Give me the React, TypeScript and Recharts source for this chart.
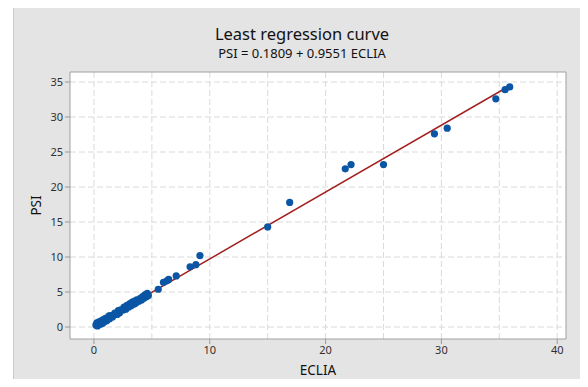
import React from "react";
import {
  ScatterChart,
  Scatter,
  XAxis,
  YAxis,
  CartesianGrid,
  ReferenceArea,
} from "recharts";

// ECLIA vs PSI readings
const points = [
  { x: 0.17, y: 0.3 }, { x: 0.25, y: 0.6 }, { x: 0.3, y: 0.15 }, { x: 0.4, y: 0.7 },
  { x: 0.45, y: 0.35 }, { x: 0.55, y: 0.8 }, { x: 0.6, y: 0.45 }, { x: 0.7, y: 0.95 },
  { x: 0.75, y: 0.55 }, { x: 0.85, y: 1.1 }, { x: 0.9, y: 0.75 }, { x: 1.0, y: 1.25 },
  { x: 1.1, y: 0.9 }, { x: 1.2, y: 1.35 }, { x: 1.3, y: 1.6 }, { x: 1.35, y: 1.2 },
  { x: 1.45, y: 1.65 }, { x: 1.6, y: 1.45 }, { x: 1.8, y: 2.0 }, { x: 2.0, y: 1.8 },
  { x: 2.1, y: 2.35 }, { x: 2.2, y: 2.0 }, { x: 2.3, y: 2.45 }, { x: 2.5, y: 2.4 },
  { x: 2.6, y: 2.85 }, { x: 2.75, y: 2.55 }, { x: 2.85, y: 3.1 }, { x: 3.0, y: 2.85 },
  { x: 3.1, y: 3.35 }, { x: 3.2, y: 3.05 }, { x: 3.3, y: 3.55 }, { x: 3.45, y: 3.25 },
  { x: 3.5, y: 3.7 }, { x: 3.6, y: 3.4 }, { x: 3.7, y: 3.9 }, { x: 3.85, y: 3.65 },
  { x: 4.0, y: 4.1 }, { x: 4.1, y: 3.85 }, { x: 4.2, y: 4.35 }, { x: 4.3, y: 4.1 },
  { x: 4.4, y: 4.6 }, { x: 4.5, y: 4.3 }, { x: 4.6, y: 4.8 }, { x: 4.7, y: 4.5 },
  { x: 5.55, y: 5.4 }, { x: 6.0, y: 6.4 }, { x: 6.3, y: 6.6 }, { x: 6.45, y: 6.8 },
  { x: 7.1, y: 7.3 }, { x: 8.3, y: 8.6 }, { x: 8.8, y: 8.9 }, { x: 9.15, y: 10.2 },
  { x: 15.0, y: 14.3 }, { x: 16.9, y: 17.8 }, { x: 21.7, y: 22.6 }, { x: 22.2, y: 23.2 },
  { x: 25.0, y: 23.2 }, { x: 29.4, y: 27.6 }, { x: 30.5, y: 28.4 }, { x: 34.7, y: 32.6 },
  { x: 35.5, y: 33.9 }, { x: 35.9, y: 34.3 },
];

// fitted line end points (PSI = 0.1809 + 0.9551 ECLIA)
const fitLine = [
  { x: 0.2, y: 0.37 },
  { x: 35.9, y: 34.47 },
];

const xTicks = [0, 10, 20, 30, 40];
const yTicks = [0, 5, 10, 15, 20, 25, 30, 35];
const xGrid = [0, 5, 10, 15, 20, 25, 30, 35, 40];
const yGrid = [0, 2.5, 5, 7.5, 10, 12.5, 15, 17.5, 20, 22.5, 25, 27.5, 30, 32.5, 35];

const X_DOMAIN = [-2.07, 40.76];
const Y_DOMAIN = [-1.71, 36.43];

const font = "'Noto Sans', 'Open Sans', sans-serif";
const tickStyle = { fontSize: 11, fill: "#303030", fontFamily: font };

const Dot = (props: any) => (
  <circle cx={props.cx} cy={props.cy} r={3.6} fill="#0b55a5" />
);

export default function App() {
  return (
    <div style={{ position: "relative", width: 588, height: 387, margin: -8, background: "#fff", overflow: "hidden" }}>
      <div
        style={{
          position: "absolute",
          left: 13,
          top: 7,
          right: 0,
          bottom: 0,
          background: "#e4e4e4",
          borderLeft: "1px solid #c9c9c9",
          borderTop: "1px solid #c9c9c9",
        }}
      />
      <div style={{ position: "absolute", left: 0, width: 604, top: 25, textAlign: "center", fontFamily: font, color: "#111", fontSize: 16.5, lineHeight: "17px" }}>
        Least regression curve
      </div>
      <div style={{ position: "absolute", left: 0, width: 604, top: 47, textAlign: "center", fontFamily: font, color: "#111", fontSize: 13, lineHeight: "13px" }}>
        PSI = 0.1809 + 0.9551 ECLIA
      </div>
      <div style={{ position: "absolute", left: 0, top: 0 }}>
        <ScatterChart width={588} height={387} margin={{ top: 72, right: 22, bottom: 18, left: 30 }}>
          <CartesianGrid
            fill="#ffffff"
            stroke="#dadada"
            strokeDasharray="6 3"
            horizontalValues={yGrid}
            verticalValues={xGrid}
          />
          <XAxis
            type="number"
            dataKey="x"
            domain={X_DOMAIN}
            ticks={xTicks}
            allowDataOverflow
            axisLine={false}
            tickLine={{ stroke: "#9a9a9a" }}
            tickSize={5}
            height={30}
            tick={tickStyle}
            label={{ value: "ECLIA", position: "insideBottom", offset: -6, style: { fontSize: 13.5, fill: "#111", fontFamily: font } }}
          />
          <YAxis
            type="number"
            dataKey="y"
            domain={Y_DOMAIN}
            ticks={yTicks}
            allowDataOverflow
            axisLine={false}
            tickLine={{ stroke: "#9a9a9a" }}
            tickSize={5}
            width={40}
            tick={tickStyle}
            label={{ value: "PSI", angle: -90, position: "insideLeft", offset: 6, style: { fontSize: 13.5, fill: "#111", fontFamily: font, textAnchor: "middle" } }}
          />
          <ReferenceArea
            x1={X_DOMAIN[0]}
            x2={X_DOMAIN[1]}
            y1={Y_DOMAIN[0]}
            y2={Y_DOMAIN[1]}
            fill="none"
            stroke="#a0a0a0"
            strokeWidth={1}
          />
          <Scatter
            data={fitLine}
            line={{ stroke: "#a31f1f", strokeWidth: 1.5 }}
            shape={() => null}
            isAnimationActive={false}
          />
          <Scatter data={points} shape={Dot} isAnimationActive={false} />
        </ScatterChart>
      </div>
    </div>
  );
}
